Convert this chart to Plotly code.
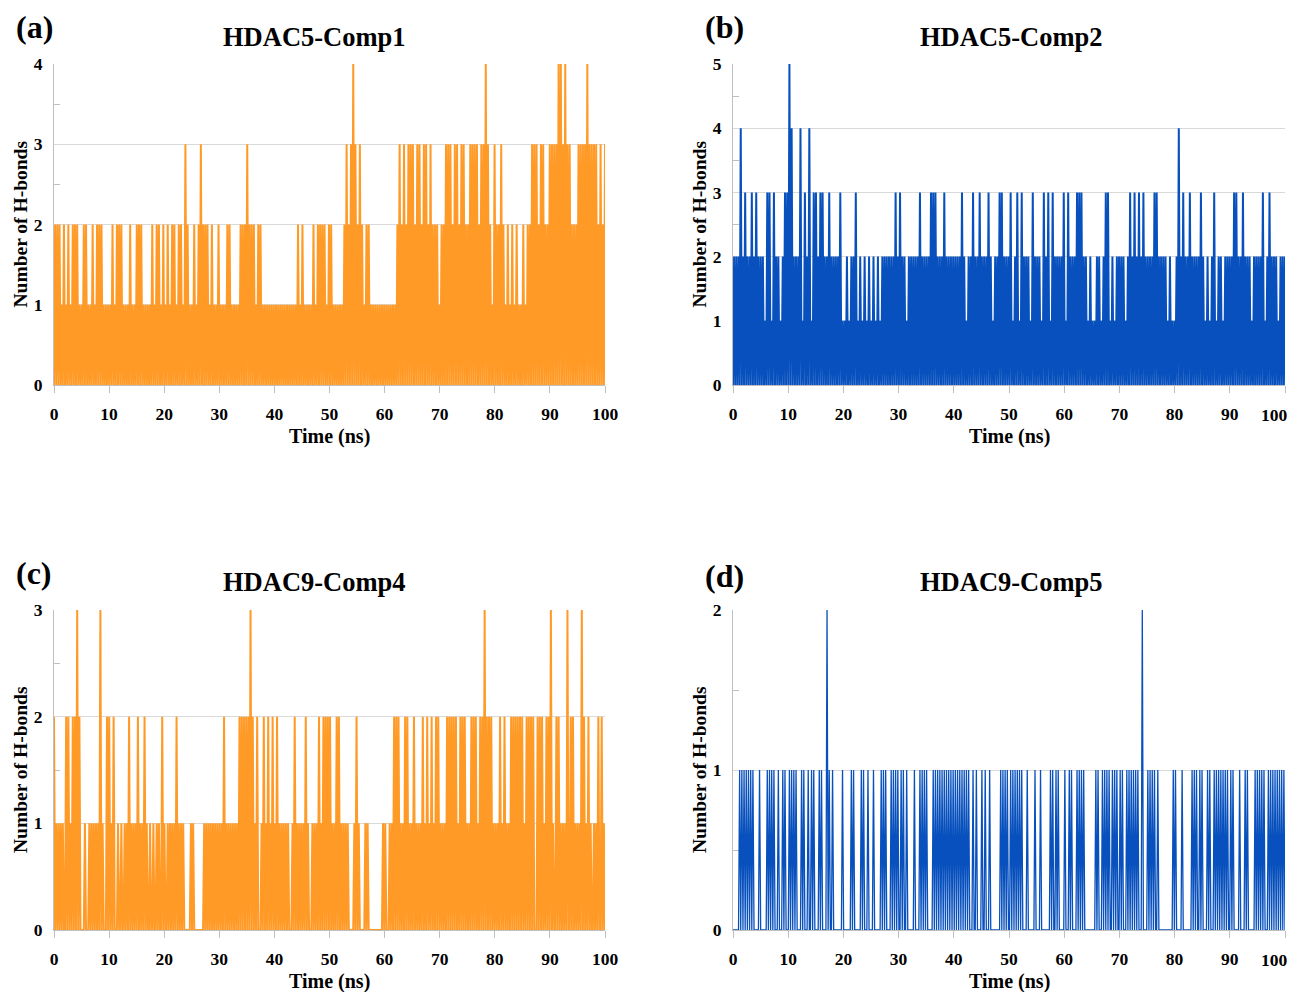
import plotly.graph_objects as go

# ---------------- data (H-bond counts, one digit per 0.2 ns frame; rows = 10 ns) ----------------
comp1_rows = [
    "0202020102 0102010202 0201010202 0101020102 0202010101",
    "0102010202 0201010102 0101020202 0101010102 0102020102",
    "0102010202 0102020103 0201010201 0203020202 0102010102",
    "0101010202 0101010102 0202030202 0201020201 0101010101",
    "0101010101 0101010101 0201020101 0101020102 0202020102",
    "0201010101 0102030203 0403020302 0102020101 0101010101",
    "0101010101 0203020302 0303030203 0302030302 0302020201",
    "0202030303 0203030203 0302020303 0303020303 0403020103",
    "0202030201 0201020102 0101020102 0203030302 0303020203",
    "0303030404 0304030302 0202030303 0304030303 0302030203",
]
comp2_rows = [
    "0202020402 0302020302 0302020201 0303010302 0201020303",
    "0504020202 0401030204 0103030203 0302020302 0202020301",
    "0102010202 0301020102 0102010201 0201020202 0202020302",
    "0302020102 0202020203 0202020203 0303020202 0302020202",
    "0202020302 0102020302 0203020202 0302010202 0303020202",
    "0301020301 0302020201 0302020201 0302030103 0202020203",
    "0103020202 0303030202 0102010102 0201020303 0102010202",
    "0202010203 0203020302 0302020202 0303020202 0201020101",
    "0204020302 0203020202 0203020102 0102030102 0201020202",
    "0203030202 0302020201 0202020203 0102030202 0201020202",
]
comp4_rows = [
    "2010101010 0202010202 0302000010 0010101010 1030100020",
    "2010200010 0100101020 1010102010 1020100100 1001010020",
    "1001010101 0201010100 0000101000 0000001010 1010101010",
    "1010201010 1010101020 2020202030 2010200010 2010201020",
    "1020101010 1010001020 1010101020 1000101010 2010202020",
    "2010102020 1010101000 0010201000 0010100000 0000000010",
    "1000101020 2020101020 2010102010 1010201020 1020102020",
    "1010102020 2020201020 2020101020 2020102020 3020202010",
    "1010201020 1010202020 2020201020 2020200020 2020102020",
    "3010020201 0101030020 2010101030 2010201001 0102002010",
]
comp5_rows = [
    "0000001010 1010101010 0000100000 0101010100 0100010100",
    "0101010100 0010100010 0101000010 1000020100 1000000001",
    "0000000101 0000001010 0010000100 0000101010 0001010101",
    "0010100100 0000100001 0101010000 0101010101 0101010101",
    "0101010101 0101000100 1000010010 0010000000 0010101010",
    "0101010101 0100001000 0001000010 0000000101 0010100000",
    "1000101000 0101010100 0000000010 1000101010 1001010100",
    "1010001010 1010101000 2000010101 0100100000 0000000010",
    "1000001000 0000010101 0010100001 0100010101 0101010100",
    "1010000010 0001010000 0010101010 1000101010 1010101010",
]

titles = ["HDAC5-Comp1", "HDAC5-Comp2", "HDAC9-Comp4", "HDAC9-Comp5"]
panel_tags = ["(a)", "(b)", "(c)", "(d)"]
y_max = [4, 5, 3, 2]
x_ticks = [0, 10, 20, 30, 40, 50, 60, 70, 80, 90, 100]
x_label = "Time (ns)"
y_label = "Number of H-bonds"


def parse(rows):
    s = "".join(r.replace(" ", "") for r in rows)
    return [int(c) for c in s]


series = [parse(comp1_rows), parse(comp2_rows), parse(comp4_rows), parse(comp5_rows)]

ORANGE = "#FF9A26"
BLUE = "#0750BD"
colors = [ORANGE, BLUE, ORANGE, BLUE]
widths = [2.0, 2.0, 2.0, 1.3]

# the page body has an 8 px margin (left/top)
OFF = 8
W, H = 1299 - OFF, 992 - OFF
VISIBLE_RIGHT = 1291  # right edge of the visible page area


def px(x):
    return (x - OFF) / W


def py(y):
    return 1 - (y - OFF) / H


# plot areas in window pixels: (left, right, top, bottom)
boxes = [(54, 605, 64, 385), (733, 1285, 64, 385), (54, 605, 610, 930), (733, 1285, 610, 930)]
tag_pos = [(34, 27), (724, 27), (34, 573), (724, 576)]
title_pos = [(314, 37), (1011, 37), (314, 582), (1011, 582)]

FONT = "Liberation Serif, Times New Roman, serif"
GRID = "#D9D9D9"
AXIS = "#BFBFBF"
TICKFONT = dict(family=FONT, size=17.5, weight="bold", color="black")

fig = go.Figure()
layout = dict(
    width=W, height=H, margin=dict(l=0, r=0, t=0, b=0, autoexpand=False),
    paper_bgcolor="white", plot_bgcolor="white", showlegend=False,
    font=dict(family=FONT, color="black"),
)
annotations = []

for i in range(4):
    vals = series[i]
    n = len(vals)
    time = [k * 100.0 / (n - 1) for k in range(n)]
    xa = "x" if i == 0 else f"x{i+1}"
    ya = "y" if i == 0 else f"y{i+1}"
    fig.add_trace(go.Scatter(x=time, y=vals, mode="lines", xaxis=xa, yaxis=ya,
                             line=dict(color=colors[i], width=widths[i]), hoverinfo="skip"))
    l, r, t, b = boxes[i]
    xkey = "xaxis" if i == 0 else f"xaxis{i+1}"
    ykey = "yaxis" if i == 0 else f"yaxis{i+1}"
    right_edge = r + 14 > VISIBLE_RIGHT
    tick_text = [str(v) for v in x_ticks]
    if right_edge:
        tick_text[-1] = ""  # drawn below as an annotation kept inside the visible page
    layout[xkey] = dict(
        domain=[px(l), px(r)], anchor=ya, range=[0, 100], tickvals=x_ticks, ticktext=tick_text,
        showgrid=False, zeroline=False, showline=True, linecolor=AXIS, linewidth=1,
        ticks="outside", ticklen=7, tickcolor=AXIS, layer="below traces",
        ticklabelstandoff=6, ticklabeloverflow="allow", tickfont=TICKFONT,
    )
    layout[ykey] = dict(
        domain=[py(b), py(t)], anchor=xa, range=[0, y_max[i]], dtick=1,
        showgrid=True, gridcolor=GRID, gridwidth=1, zeroline=False,
        showline=True, linecolor=AXIS, linewidth=1,
        ticks="", layer="below traces", ticklabelstandoff=7,
        minor=dict(dtick=0.5, ticks="inside", ticklen=6, tickcolor=AXIS, showgrid=False),
        tickfont=TICKFONT,
    )
    if right_edge:
        annotations.append(dict(text=str(x_ticks[-1]), x=px(VISIBLE_RIGHT - 1), y=py(b + 30),
                                xref="paper", yref="paper", showarrow=False,
                                xanchor="right", yanchor="middle", font=TICKFONT))
    annotations.append(dict(text=panel_tags[i], x=px(tag_pos[i][0]), y=py(tag_pos[i][1]),
                            xref="paper", yref="paper", showarrow=False, xanchor="center", yanchor="middle",
                            font=dict(family=FONT, size=32, weight="bold")))
    annotations.append(dict(text=titles[i], x=px(title_pos[i][0]), y=py(title_pos[i][1]),
                            xref="paper", yref="paper", showarrow=False, xanchor="center", yanchor="middle",
                            font=dict(family=FONT, size=26.5, weight="bold")))
    annotations.append(dict(text=x_label, x=px((l + r) / 2), y=py(b + 51),
                            xref="paper", yref="paper", showarrow=False, xanchor="center", yanchor="middle",
                            font=dict(family=FONT, size=20, weight="bold")))
    annotations.append(dict(text=y_label, x=px(l - 34), y=py((t + b) / 2), textangle=-90,
                            xref="paper", yref="paper", showarrow=False, xanchor="center", yanchor="middle",
                            font=dict(family=FONT, size=19.5, weight="bold")))

layout["annotations"] = annotations
fig.update_layout(**layout)
fig.write_html("out.html")
